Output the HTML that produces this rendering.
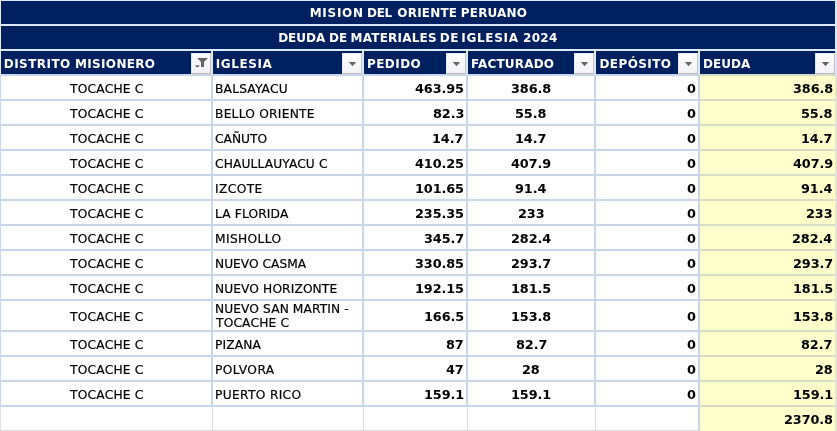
<!DOCTYPE html>
<html lang="es"><head><meta charset="utf-8"><title>Deuda de materiales de iglesia 2024</title>
<style>
html,body{margin:0;padding:0;background:#fff;}
body{width:837px;height:431px;position:relative;overflow:hidden;font-family:"DejaVu Sans","Liberation Sans",sans-serif;font-size:12px;color:#000;}
div{position:absolute;}
.nv{background:#002060;}
.y{background:#ffffcc;}
.l{background:#cad7e8;}
.ly{background:#d6dcc6;}
.lv{background:#c9d5ea;}
.lh{background:#dce8fb;}
.t{white-space:nowrap;line-height:14px;height:14px;transform-origin:0 0;}
.r{-webkit-text-stroke:0.2px #000;}
.b{font-weight:bold;}
.w{color:#fff;}
.btn{width:20px;height:21px;top:53px;background:linear-gradient(#fbfbfd,#f3f3f7);box-sizing:border-box;border:1px solid;border-color:#e9e9ec #c4c4c8 #bcbcc0 #e9e9ec;}
.btn svg{position:absolute;left:-1px;top:-1px;}
</style></head><body>

<div class="nv" style="left:0;top:0;width:837px;height:74px"></div>
<div class="y" style="left:699px;top:75px;width:138px;height:356px"></div>
<div class="lh" style="left:0;top:0;width:837px;height:1px"></div>
<div class="lh" style="left:0;top:24px;width:837px;height:2px"></div>
<div class="lh" style="left:0;top:49px;width:837px;height:2px"></div>
<div class="l" style="left:0;top:74px;width:699px;height:2px"></div>
<div class="ly" style="left:699px;top:74px;width:138px;height:2px"></div>
<div class="l" style="left:0;top:99px;width:699px;height:2px"></div>
<div class="ly" style="left:699px;top:99px;width:138px;height:2px"></div>
<div class="l" style="left:0;top:124px;width:699px;height:2px"></div>
<div class="ly" style="left:699px;top:124px;width:138px;height:2px"></div>
<div class="l" style="left:0;top:149px;width:699px;height:2px"></div>
<div class="ly" style="left:699px;top:149px;width:138px;height:2px"></div>
<div class="l" style="left:0;top:174px;width:699px;height:2px"></div>
<div class="ly" style="left:699px;top:174px;width:138px;height:2px"></div>
<div class="l" style="left:0;top:199px;width:699px;height:2px"></div>
<div class="ly" style="left:699px;top:199px;width:138px;height:2px"></div>
<div class="l" style="left:0;top:224px;width:699px;height:2px"></div>
<div class="ly" style="left:699px;top:224px;width:138px;height:2px"></div>
<div class="l" style="left:0;top:249px;width:699px;height:2px"></div>
<div class="ly" style="left:699px;top:249px;width:138px;height:2px"></div>
<div class="l" style="left:0;top:274px;width:699px;height:2px"></div>
<div class="ly" style="left:699px;top:274px;width:138px;height:2px"></div>
<div class="l" style="left:0;top:299px;width:699px;height:2px"></div>
<div class="ly" style="left:699px;top:299px;width:138px;height:2px"></div>
<div class="l" style="left:0;top:330px;width:699px;height:2px"></div>
<div class="ly" style="left:699px;top:330px;width:138px;height:2px"></div>
<div class="l" style="left:0;top:355px;width:699px;height:2px"></div>
<div class="ly" style="left:699px;top:355px;width:138px;height:2px"></div>
<div class="l" style="left:0;top:380px;width:699px;height:2px"></div>
<div class="ly" style="left:699px;top:380px;width:138px;height:2px"></div>
<div class="l" style="left:0;top:405px;width:699px;height:2px"></div>
<div class="ly" style="left:699px;top:405px;width:138px;height:2px"></div>
<div style="left:0;top:430px;width:699px;height:1px;background:#dcdcdc"></div>
<div class="lh" style="left:211px;top:51px;width:2px;height:23px"></div>
<div class="lv" style="left:211px;top:74px;width:2px;height:333px"></div>
<div style="left:212px;top:407px;width:1px;height:24px;background:#dadde2"></div>
<div class="lh" style="left:362px;top:51px;width:2px;height:23px"></div>
<div class="lv" style="left:362px;top:74px;width:2px;height:333px"></div>
<div style="left:363px;top:407px;width:1px;height:24px;background:#dadde2"></div>
<div class="lh" style="left:466px;top:51px;width:2px;height:23px"></div>
<div class="lv" style="left:466px;top:74px;width:2px;height:333px"></div>
<div style="left:467px;top:407px;width:1px;height:24px;background:#dadde2"></div>
<div class="lh" style="left:594px;top:51px;width:2px;height:23px"></div>
<div class="lv" style="left:594px;top:74px;width:2px;height:333px"></div>
<div style="left:595px;top:407px;width:1px;height:24px;background:#dadde2"></div>
<div class="lh" style="left:698px;top:51px;width:2px;height:23px"></div>
<div class="lv" style="left:698px;top:74px;width:2px;height:357px"></div>
<div class="lh" style="left:0;top:0;width:1px;height:75px"></div>
<div class="l" style="left:0;top:75px;width:1px;height:332px"></div>
<div style="left:0;top:407px;width:1px;height:24px;background:#dcdfe3"></div>
<div class="lh" style="left:835px;top:0;width:2px;height:75px"></div>
<div style="left:835px;top:75px;width:2px;height:356px;background:#dde4ec"></div>
<div class="btn" style="left:191px"><svg width="20" height="21" viewBox="0 0 20 21"><polygon points="6.1,5 17,5 13,9 13,14 10,14 10,9" fill="#666"/><polygon points="3.8,12.2 8.9,12.2 6.35,14.8" fill="#666"/></svg></div>
<div class="btn" style="left:342px"><svg width="20" height="21" viewBox="0 0 20 21"><polygon points="6.8,9 14.2,9 10.5,13.2" fill="#666660"/></svg></div>
<div class="btn" style="left:446px"><svg width="20" height="21" viewBox="0 0 20 21"><polygon points="6.8,9 14.2,9 10.5,13.2" fill="#666660"/></svg></div>
<div class="btn" style="left:574px"><svg width="20" height="21" viewBox="0 0 20 21"><polygon points="6.8,9 14.2,9 10.5,13.2" fill="#666660"/></svg></div>
<div class="btn" style="left:678px"><svg width="20" height="21" viewBox="0 0 20 21"><polygon points="6.8,9 14.2,9 10.5,13.2" fill="#666660"/></svg></div>
<div class="btn" style="left:815px"><svg width="20" height="21" viewBox="0 0 20 21"><polygon points="6.8,9 14.2,9 10.5,13.2" fill="#666660"/></svg></div>
<div class="t b w" style="left:309.67px;top:5.50px;letter-spacing:0.738px">MISION</div>
<div class="t b w" style="left:367.07px;top:5.50px;letter-spacing:-0.341px">DEL</div>
<div class="t b w" style="left:397.30px;top:5.50px;letter-spacing:0.197px">ORIENTE</div>
<div class="t b w" style="left:460.87px;top:5.50px;letter-spacing:0.139px">PERUANO</div>
<div class="t b w" style="left:278.17px;top:30.60px;letter-spacing:-0.009px">DEUDA</div>
<div class="t b w" style="left:328.97px;top:30.60px;letter-spacing:0.088px">DE</div>
<div class="t b w" style="left:350.47px;top:30.60px;letter-spacing:0.229px">MATERIALES</div>
<div class="t b w" style="left:439.87px;top:30.60px;letter-spacing:0.388px">DE</div>
<div class="t b w" style="left:461.36px;top:30.60px;letter-spacing:0.668px">IGLESIA</div>
<div class="t b w" style="left:523.00px;top:30.60px;letter-spacing:0.312px">2024</div>
<div class="t b w" style="left:3.77px;top:56.80px;letter-spacing:0.452px">DISTRITO</div>
<div class="t b w" style="left:75.07px;top:56.80px;letter-spacing:0.321px">MISIONERO</div>
<div class="t b w" style="left:215.66px;top:56.80px;letter-spacing:0.601px">IGLESIA</div>
<div class="t b w" style="left:366.97px;top:56.80px;letter-spacing:0.447px">PEDIDO</div>
<div class="t b w" style="left:471.07px;top:56.80px;letter-spacing:0.171px">FACTURADO</div>
<div class="t b w" style="left:599.47px;top:56.80px;letter-spacing:0.405px">DEPÓSITO</div>
<div class="t b w" style="left:702.97px;top:56.80px;letter-spacing:0.041px">DEUDA</div>
<div class="t r" style="left:70.30px;top:81.60px;letter-spacing:0.201px;transform:scaleX(1.020)">TOCACHE C</div>
<div class="t r" style="left:214.68px;top:81.60px;letter-spacing:0.178px;transform:scaleX(1.020)">BALSAYACU</div>
<div class="t b" style="left:414.75px;top:81.60px;letter-spacing:-0.110px;transform:scaleX(1.070)">463.95</div>
<div class="t b" style="left:511.13px;top:81.60px;letter-spacing:-0.110px;transform:scaleX(1.070)">386.8</div>
<div class="t b" style="left:687.24px;top:81.60px;letter-spacing:0.000px;transform:scaleX(1.070)">0</div>
<div class="t b" style="left:792.58px;top:81.60px;letter-spacing:-0.110px;transform:scaleX(1.070)">386.8</div>
<div class="t r" style="left:70.30px;top:106.60px;letter-spacing:0.201px;transform:scaleX(1.020)">TOCACHE C</div>
<div class="t r" style="left:214.68px;top:106.60px;letter-spacing:0.224px;transform:scaleX(1.020)">BELLO ORIENTE</div>
<div class="t b" style="left:432.53px;top:106.60px;letter-spacing:-0.110px;transform:scaleX(1.070)">82.3</div>
<div class="t b" style="left:515.32px;top:106.60px;letter-spacing:-0.110px;transform:scaleX(1.070)">55.8</div>
<div class="t b" style="left:687.24px;top:106.60px;letter-spacing:0.000px;transform:scaleX(1.070)">0</div>
<div class="t b" style="left:801.21px;top:106.60px;letter-spacing:-0.110px;transform:scaleX(1.070)">55.8</div>
<div class="t r" style="left:70.30px;top:131.60px;letter-spacing:0.201px;transform:scaleX(1.020)">TOCACHE C</div>
<div class="t r" style="left:215.10px;top:131.60px;letter-spacing:0.016px;transform:scaleX(1.020)">CAÑUTO</div>
<div class="t b" style="left:432.45px;top:131.60px;letter-spacing:-0.110px;transform:scaleX(1.070)">14.7</div>
<div class="t b" style="left:515.20px;top:131.60px;letter-spacing:-0.110px;transform:scaleX(1.070)">14.7</div>
<div class="t b" style="left:687.24px;top:131.60px;letter-spacing:0.000px;transform:scaleX(1.070)">0</div>
<div class="t b" style="left:801.35px;top:131.60px;letter-spacing:-0.110px;transform:scaleX(1.070)">14.7</div>
<div class="t r" style="left:70.30px;top:156.60px;letter-spacing:0.201px;transform:scaleX(1.020)">TOCACHE C</div>
<div class="t r" style="left:215.10px;top:156.60px;letter-spacing:0.113px;transform:scaleX(1.020)">CHAULLAUYACU C</div>
<div class="t b" style="left:414.75px;top:156.60px;letter-spacing:-0.110px;transform:scaleX(1.070)">410.25</div>
<div class="t b" style="left:511.27px;top:156.60px;letter-spacing:-0.110px;transform:scaleX(1.070)">407.9</div>
<div class="t b" style="left:687.24px;top:156.60px;letter-spacing:0.000px;transform:scaleX(1.070)">0</div>
<div class="t b" style="left:792.58px;top:156.60px;letter-spacing:-0.110px;transform:scaleX(1.070)">407.9</div>
<div class="t r" style="left:70.30px;top:181.60px;letter-spacing:0.201px;transform:scaleX(1.020)">TOCACHE C</div>
<div class="t r" style="left:214.67px;top:181.60px;letter-spacing:0.386px;transform:scaleX(1.020)">IZCOTE</div>
<div class="t b" style="left:414.75px;top:181.60px;letter-spacing:-0.110px;transform:scaleX(1.070)">101.65</div>
<div class="t b" style="left:515.39px;top:181.60px;letter-spacing:-0.110px;transform:scaleX(1.070)">91.4</div>
<div class="t b" style="left:687.24px;top:181.60px;letter-spacing:0.000px;transform:scaleX(1.070)">0</div>
<div class="t b" style="left:801.02px;top:181.60px;letter-spacing:-0.110px;transform:scaleX(1.070)">91.4</div>
<div class="t r" style="left:70.30px;top:206.60px;letter-spacing:0.201px;transform:scaleX(1.020)">TOCACHE C</div>
<div class="t r" style="left:214.68px;top:206.60px;letter-spacing:0.126px;transform:scaleX(1.020)">LA FLORIDA</div>
<div class="t b" style="left:414.75px;top:206.60px;letter-spacing:-0.110px;transform:scaleX(1.070)">235.35</div>
<div class="t b" style="left:517.84px;top:206.60px;letter-spacing:-0.110px;transform:scaleX(1.070)">233</div>
<div class="t b" style="left:687.24px;top:206.60px;letter-spacing:0.000px;transform:scaleX(1.070)">0</div>
<div class="t b" style="left:806.26px;top:206.60px;letter-spacing:-0.110px;transform:scaleX(1.070)">233</div>
<div class="t r" style="left:70.30px;top:231.60px;letter-spacing:0.201px;transform:scaleX(1.020)">TOCACHE C</div>
<div class="t r" style="left:214.68px;top:231.60px;letter-spacing:0.351px;transform:scaleX(1.020)">MISHOLLO</div>
<div class="t b" style="left:423.72px;top:231.60px;letter-spacing:-0.110px;transform:scaleX(1.070)">345.7</div>
<div class="t b" style="left:510.83px;top:231.60px;letter-spacing:-0.110px;transform:scaleX(1.070)">282.4</div>
<div class="t b" style="left:687.24px;top:231.60px;letter-spacing:0.000px;transform:scaleX(1.070)">0</div>
<div class="t b" style="left:792.23px;top:231.60px;letter-spacing:-0.110px;transform:scaleX(1.070)">282.4</div>
<div class="t r" style="left:70.30px;top:256.60px;letter-spacing:0.201px;transform:scaleX(1.020)">TOCACHE C</div>
<div class="t r" style="left:214.68px;top:256.60px;letter-spacing:-0.003px;transform:scaleX(1.020)">NUEVO CASMA</div>
<div class="t b" style="left:414.75px;top:256.60px;letter-spacing:-0.110px;transform:scaleX(1.070)">330.85</div>
<div class="t b" style="left:511.02px;top:256.60px;letter-spacing:-0.110px;transform:scaleX(1.070)">293.7</div>
<div class="t b" style="left:687.24px;top:256.60px;letter-spacing:0.000px;transform:scaleX(1.070)">0</div>
<div class="t b" style="left:792.62px;top:256.60px;letter-spacing:-0.110px;transform:scaleX(1.070)">293.7</div>
<div class="t r" style="left:70.30px;top:281.60px;letter-spacing:0.201px;transform:scaleX(1.020)">TOCACHE C</div>
<div class="t r" style="left:214.68px;top:281.60px;letter-spacing:0.090px;transform:scaleX(1.020)">NUEVO HORIZONTE</div>
<div class="t b" style="left:414.75px;top:281.60px;letter-spacing:-0.110px;transform:scaleX(1.070)">192.15</div>
<div class="t b" style="left:510.82px;top:281.60px;letter-spacing:-0.110px;transform:scaleX(1.070)">181.5</div>
<div class="t b" style="left:687.24px;top:281.60px;letter-spacing:0.000px;transform:scaleX(1.070)">0</div>
<div class="t b" style="left:792.58px;top:281.60px;letter-spacing:-0.110px;transform:scaleX(1.070)">181.5</div>
<div class="t r" style="left:70.30px;top:309.80px;letter-spacing:0.201px;transform:scaleX(1.020)">TOCACHE C</div>
<div class="t r" style="left:214.68px;top:301.60px;letter-spacing:0.089px;transform:scaleX(1.020)">NUEVO SAN MARTIN -</div>
<div class="t r" style="left:215.80px;top:316.20px;letter-spacing:0.152px;transform:scaleX(1.020)">TOCACHE C</div>
<div class="t b" style="left:423.68px;top:309.80px;letter-spacing:-0.110px;transform:scaleX(1.070)">166.5</div>
<div class="t b" style="left:510.82px;top:309.80px;letter-spacing:-0.110px;transform:scaleX(1.070)">153.8</div>
<div class="t b" style="left:687.24px;top:309.80px;letter-spacing:0.000px;transform:scaleX(1.070)">0</div>
<div class="t b" style="left:792.58px;top:309.80px;letter-spacing:-0.110px;transform:scaleX(1.070)">153.8</div>
<div class="t r" style="left:70.30px;top:337.60px;letter-spacing:0.201px;transform:scaleX(1.020)">TOCACHE C</div>
<div class="t r" style="left:214.68px;top:337.60px;letter-spacing:0.131px;transform:scaleX(1.020)">PIZANA</div>
<div class="t b" style="left:446.12px;top:337.60px;letter-spacing:-0.110px;transform:scaleX(1.070)">87</div>
<div class="t b" style="left:515.52px;top:337.60px;letter-spacing:-0.110px;transform:scaleX(1.070)">82.7</div>
<div class="t b" style="left:687.24px;top:337.60px;letter-spacing:0.000px;transform:scaleX(1.070)">0</div>
<div class="t b" style="left:801.35px;top:337.60px;letter-spacing:-0.110px;transform:scaleX(1.070)">82.7</div>
<div class="t r" style="left:70.30px;top:362.60px;letter-spacing:0.201px;transform:scaleX(1.020)">TOCACHE C</div>
<div class="t r" style="left:214.68px;top:362.60px;letter-spacing:0.416px;transform:scaleX(1.020)">POLVORA</div>
<div class="t b" style="left:446.12px;top:362.60px;letter-spacing:-0.110px;transform:scaleX(1.070)">47</div>
<div class="t b" style="left:522.16px;top:362.60px;letter-spacing:-0.110px;transform:scaleX(1.070)">28</div>
<div class="t b" style="left:687.24px;top:362.60px;letter-spacing:0.000px;transform:scaleX(1.070)">0</div>
<div class="t b" style="left:814.88px;top:362.60px;letter-spacing:-0.110px;transform:scaleX(1.070)">28</div>
<div class="t r" style="left:70.30px;top:387.60px;letter-spacing:0.201px;transform:scaleX(1.020)">TOCACHE C</div>
<div class="t r" style="left:214.68px;top:387.60px;letter-spacing:0.307px;transform:scaleX(1.020)">PUERTO RICO</div>
<div class="t b" style="left:423.68px;top:387.60px;letter-spacing:-0.110px;transform:scaleX(1.070)">159.1</div>
<div class="t b" style="left:510.82px;top:387.60px;letter-spacing:-0.110px;transform:scaleX(1.070)">159.1</div>
<div class="t b" style="left:687.24px;top:387.60px;letter-spacing:0.000px;transform:scaleX(1.070)">0</div>
<div class="t b" style="left:792.58px;top:387.60px;letter-spacing:-0.110px;transform:scaleX(1.070)">159.1</div>
<div class="t b" style="left:783.54px;top:412.60px;letter-spacing:-0.110px;transform:scaleX(1.070)">2370.8</div>
</body></html>
